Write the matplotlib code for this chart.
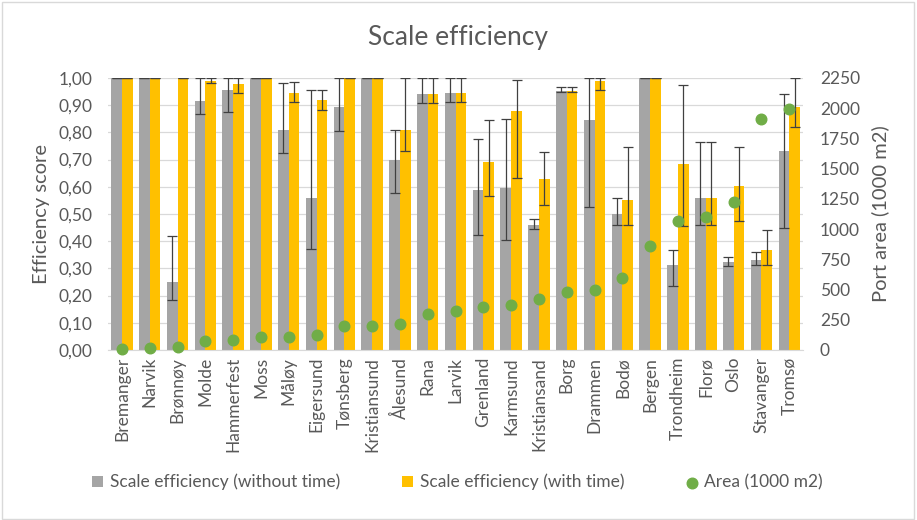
import numpy as np
import matplotlib
matplotlib.use('Agg')
import matplotlib.pyplot as plt
from matplotlib.patches import Rectangle
from matplotlib.ticker import FuncFormatter

plt.rcParams['font.family'] = ['Lato', 'DejaVu Sans']

# ports (sorted by area)
ports = ['Bremanger', 'Narvik', 'Brønnøy', 'Molde', 'Hammerfest', 'Moss', 'Måløy',
         'Eigersund', 'Tønsberg', 'Kristiansund', 'Ålesund', 'Rana', 'Larvik',
         'Grenland', 'Karmsund', 'Kristiansand', 'Borg', 'Drammen', 'Bodø', 'Bergen',
         'Trondheim', 'Florø', 'Oslo', 'Stavanger', 'Tromsø']

# scale efficiency without time (grey) + error bar bounds
se_no_time = [1.00, 1.00, 0.25, 0.915, 0.956, 1.00, 0.809, 0.56, 0.895, 1.00,
              0.699, 0.941, 0.946, 0.588, 0.597, 0.46, 0.953, 0.846, 0.50, 1.00,
              0.312, 0.56, 0.325, 0.331, 0.732]
se_no_time_lo = [1.00, 1.00, 0.184, 0.866, 0.874, 1.00, 0.723, 0.37, 0.805, 1.00,
                 0.576, 0.907, 0.913, 0.423, 0.403, 0.444, 0.949, 0.526, 0.46, 1.00,
                 0.235, 0.46, 0.309, 0.312, 0.447]
se_no_time_hi = [1.00, 1.00, 0.419, 1.00, 1.00, 1.00, 0.98, 0.955, 1.00, 1.00,
                 0.808, 1.00, 1.00, 0.775, 0.848, 0.48, 0.966, 1.00, 0.558, 1.00,
                 0.367, 0.763, 0.341, 0.361, 0.94]

# scale efficiency with time (yellow) + error bar bounds
se_time = [1.00, 1.00, 1.00, 0.99, 0.978, 1.00, 0.946, 0.919, 1.00, 1.00,
           0.808, 0.941, 0.946, 0.691, 0.879, 0.629, 0.953, 0.989, 0.551, 1.00,
           0.684, 0.56, 0.603, 0.368, 0.892]
se_time_lo = [1.00, 1.00, 1.00, 0.983, 0.944, 1.00, 0.91, 0.881, 1.00, 1.00,
              0.732, 0.907, 0.913, 0.566, 0.631, 0.532, 0.947, 0.955, 0.46, 1.00,
              0.456, 0.46, 0.473, 0.3125, 0.821]
se_time_hi = [1.00, 1.00, 1.00, 1.00, 1.00, 1.00, 0.984, 0.955, 1.00, 1.00,
              1.00, 1.00, 1.00, 0.844, 0.991, 0.727, 0.966, 1.00, 0.745, 1.00,
              0.974, 0.763, 0.745, 0.44, 1.00]

# port area (1000 m2)
area = [10, 15, 25, 75, 83, 110, 110, 124, 201, 200,
        215, 298, 325, 358, 372, 424, 482, 496, 598, 860,
        1067, 1103, 1227, 1911, 1994]

grey = '#A5A5A5'
yellow = '#FFC000'
green = '#70AD47'
txt = '#595959'
grid_c = '#D9D9D9'

fig = plt.figure(figsize=(9.17, 5.20), dpi=100)
ax = fig.add_axes([0.1178, 0.327, 0.758, 0.523])
ax2 = ax.twinx()

x = np.arange(len(ports))
w = 0.385
v1 = np.array(se_no_time)
v2 = np.array(se_time)
err1 = [v1 - np.array(se_no_time_lo), np.array(se_no_time_hi) - v1]
err2 = [v2 - np.array(se_time_lo), np.array(se_time_hi) - v2]

ekw = dict(ecolor='#404040', elinewidth=0.9, capsize=3.5, capthick=0.9)
b1 = ax.bar(x - w / 2, v1, w, color=grey, yerr=err1, error_kw=ekw,
            label='Scale efficiency (without time)', zorder=2)
b2 = ax.bar(x + w / 2, v2, w, color=yellow, yerr=err2, error_kw=ekw,
            label='Scale efficiency (with time)', zorder=2)

sc = ax2.scatter(x, area, s=58, color=green, zorder=3, label='Area (1000 m2)',
                 clip_on=False)

ax.set_xlim(-0.5, len(ports) - 0.5)
ax.set_ylim(0, 1)
ax.set_yticks(np.arange(0, 1.01, 0.1))
ax.yaxis.set_major_formatter(FuncFormatter(lambda v, p: f'{v:.2f}'.replace('.', ',')))
ax2.set_ylim(0, 2250)
ax2.set_yticks(np.arange(0, 2251, 250))

ax.set_xticks(x)
ax.set_xticklabels(ports, rotation=90)
ax.grid(axis='y', color=grid_c, linewidth=0.9, zorder=0)
ax.set_axisbelow(True)

for a in (ax, ax2):
    for s in a.spines.values():
        s.set_visible(False)
    a.tick_params(length=0, labelsize=12.5, colors=txt)
ax.tick_params(axis='y', pad=11)
ax.tick_params(axis='x', pad=5)
ax2.tick_params(axis='y', pad=12)
ax.spines['bottom'].set_visible(True)
ax.spines['bottom'].set_color(grid_c)

ax.set_ylabel('Efficiency score', fontsize=14.5, color=txt, labelpad=6)
ax2.set_ylabel('Port area (1000 m2)', fontsize=14.5, color=txt, labelpad=8)

fig.text(0.5, 0.928, 'Scale efficiency', ha='center', va='center', fontsize=19, color=txt)

fig.legend(handles=[b1, b2, sc], loc='center', bbox_to_anchor=(0.499, 0.073), ncol=3,
           frameon=False, fontsize=12.5, labelcolor=txt, handlelength=0.6,
           handleheight=0.6, handletextpad=0.4, columnspacing=3.6)

# chart border
fig.patches.append(Rectangle((0.002, 0.002), 0.995, 0.995, transform=fig.transFigure,
                             fill=False, edgecolor=grid_c, linewidth=1))

fig.savefig('out.png', dpi=100)
